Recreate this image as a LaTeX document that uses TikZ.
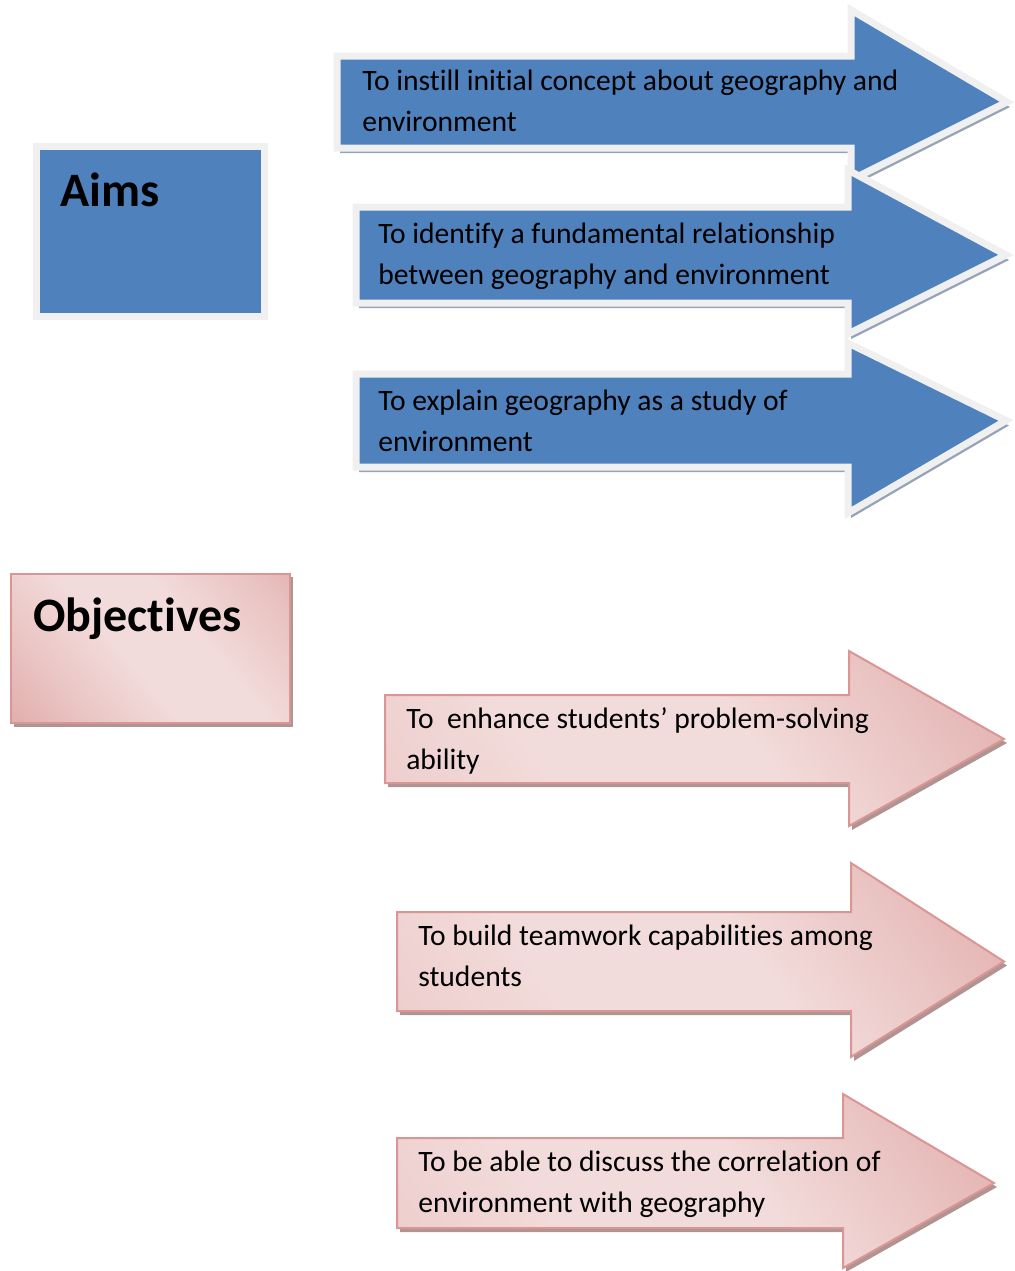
\documentclass[tikz,border=0pt]{standalone}
\usepackage{fontspec}
\setmainfont[Ligatures=NoCommon]{Carlito}
\definecolor{blueF}{HTML}{4F81BD}
\definecolor{whiteB}{HTML}{F0F0F0}
\definecolor{blueSh}{HTML}{95A3B8}
\definecolor{pinkD}{HTML}{D99694}
\definecolor{pinkM}{HTML}{E3AEAD}
\definecolor{pinkL}{HTML}{F2DCDB}
\definecolor{pinkSh}{HTML}{B09492}
\pgfdeclarehorizontalshading{pinkband}{100bp}{color(0bp)=(pinkD); color(30bp)=(pinkL!70!pinkD); color(45bp)=(pinkL); color(60bp)=(pinkL); color(80bp)=(pinkL!60!pinkD); color(100bp)=(pinkD)}
\pgfdeclarehorizontalshading{pinkarr}{100bp}{color(0bp)=(pinkL!60!pinkD); color(35bp)=(pinkL); color(55bp)=(pinkL); color(75bp)=(pinkL!55!pinkD); color(100bp)=(pinkD)}
\newcommand\arrowpath[7]{(#1,#2) -- (#4,#2) -- (#4,#5) -- (#7,{(#2+#3)/2}) -- (#4,#6) -- (#4,#3) -- (#1,#3) -- cycle}
\newcommand\bluearrow[7]{%
  \fill[blueSh, shift={(3,5)}] \arrowpath{#1}{#2}{#3}{#4}{#5}{#6}{#7};
  \draw[bluebody] \arrowpath{#1}{#2}{#3}{#4}{#5}{#6}{#7};}
\newcommand\pinkarrow[7]{%
  \fill[pinkSh, shift={(3,4)}] \arrowpath{#1}{#2}{#3}{#4}{#5}{#6}{#7};
  \shade[pinkbody] \arrowpath{#1}{#2}{#3}{#4}{#5}{#6}{#7};}
\begin{document}
\begin{tikzpicture}[x=0.75pt,y=-0.75pt,
  bluebody/.style={fill=blueF, draw=whiteB, line width=5.25pt, line join=miter},
  pinkbody/.style={draw=pinkD, line width=1.5pt, line join=miter, shading=pinkarr, shading angle=35},
  txt/.style={anchor=base west, inner sep=0pt, align=left, font=\fontsize{22.2}{30.75}\selectfont, text=black},
  title/.style={anchor=base west, inner sep=0pt, font=\fontsize{36}{40}\selectfont\bfseries, text=black}]
\useasboundingbox (0,0) rectangle (1014,1271);
% Aims box
\fill[blueSh] (40.5,150.5) rectangle (268,320);
\draw[bluebody] (36.5,146.5) rectangle (264,316);
\node[title] (aims) at (60,206) {Aims};
% blue arrows
\bluearrow{337}{56}{148}{851}{10}{180}{1007}
\node[txt] (a1) at (362,131) {To instill initial concept about geography and\\environment};
\bluearrow{356}{207}{303}{848}{170}{334}{1006}
\node[txt] (a2) at (378,284) {To identify a fundamental relationship\\between geography and environment};
\bluearrow{356}{374}{467}{848}{343}{513}{1006}
\node[txt] (a3) at (378,451) {To explain geography as a study of\\environment};
% Objectives box
\fill[pinkSh] (14,577) rectangle (293,727);
\shade[draw=pinkD, line width=1.5pt, shading=pinkband, shading angle=40] (11,574) rectangle (290,723);
\node[title] (obj) at (33,631) {Objectives};
% pink arrows
\pinkarrow{385}{695}{783}{849}{651}{826}{1004}
\node[txt] (o1) at (406,769) {To\ \ enhance students’ problem-solving\\ability};
\pinkarrow{397}{912}{1011}{851}{863}{1057}{1004}
\node[txt] (o2) at (418,986) {To build teamwork capabilities among\\students};
\pinkarrow{397}{1138}{1228}{843}{1094}{1268}{994}
\node[txt] (o3) at (418,1212) {To be able to discuss the correlation of\\environment with geography};
\end{tikzpicture}
\end{document}
